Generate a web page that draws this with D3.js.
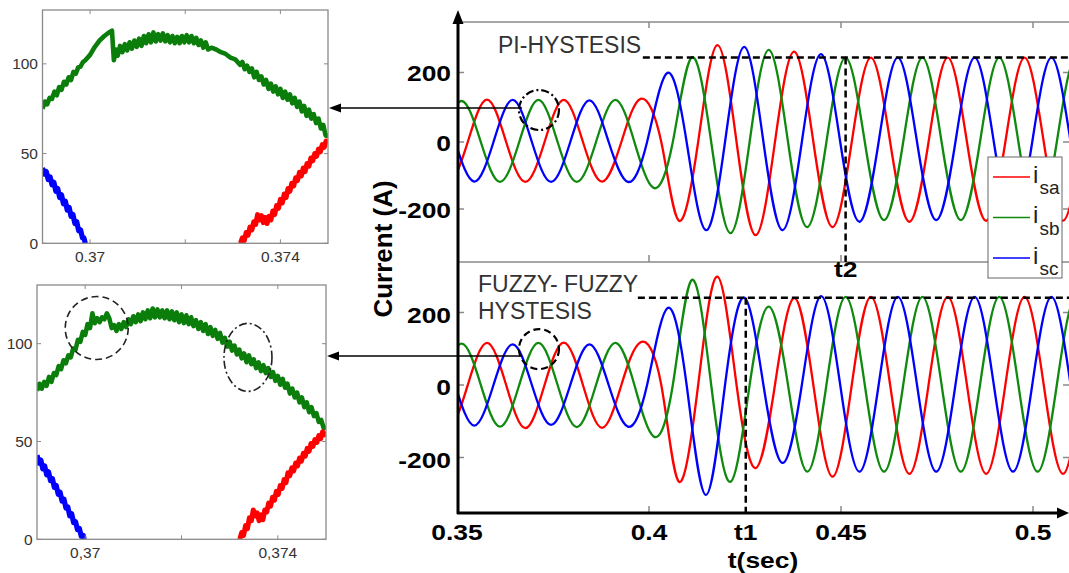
<!DOCTYPE html>
<html><head><meta charset="utf-8">
<script src="https://cdn.jsdelivr.net/npm/d3@7"></script>
<style>
html,body{margin:0;padding:0;background:#fff;}
svg{display:block;}
text{font-family:"Liberation Sans",Arial,sans-serif;}
</style></head><body>
<svg id="chart" width="1069" height="573"></svg>
<script>
// ---------------- DATA ----------------
// main axis ticks
const mainXTicks = [0.35, 0.4, 0.45, 0.5];
const mainXTickLabels = ["0.35", "0.4", "0.45", "0.5"];
const mainYTicks = [-200, 0, 200];
const mainYTickLabels = ["-200", "0", "200"];
const seriesNames = ["sa", "sb", "sc"];
const seriesColors = ["#ff0000", "#0f8a0f", "#0000ff"];

// PI-HYSTESIS currents [t (s), i (A)]
const piIsa = [[0.3428,0],[0.3478,-118],[0.3528,0],[0.3578,122],[0.3628,0],[0.3678,-119],[0.3728,0],[0.3778,121],[0.3828,0],[0.3878,-118],[0.3928,0],[0.3978,124],[0.4032,0],[0.4078,-235],[0.4128,0],[0.4178,279],[0.4228,0],[0.4278,-278],[0.4328,0],[0.4378,260],[0.4428,0],[0.4478,-254],[0.4528,0],[0.4578,243],[0.4628,0],[0.4678,-238],[0.4728,0],[0.4778,243],[0.4828,0],[0.4878,-235],[0.4928,0],[0.4978,243],[0.5028,0],[0.5078,-235],[0.5128,0]];
const piIsb = [[0.3462,0],[0.3512,118],[0.3562,0],[0.3612,-119],[0.3662,0],[0.3712,121],[0.3762,0],[0.3812,-119],[0.3862,0],[0.3912,121],[0.3962,0],[0.4012,-137],[0.4062,0],[0.4112,244],[0.4162,0],[0.4212,-272],[0.4262,0],[0.4312,265],[0.4362,0],[0.4412,-254],[0.4462,0],[0.4512,243],[0.4562,0],[0.4612,-233],[0.4662,0],[0.4712,243],[0.4762,0],[0.4812,-233],[0.4862,0],[0.4912,243],[0.4962,0],[0.5012,-235],[0.5062,0],[0.5112,243],[0.5162,0]];
const piIsc = [[0.3495,0],[0.3545,-118],[0.3595,0],[0.3645,121],[0.3695,0],[0.3745,-119],[0.3795,0],[0.3845,120],[0.3895,0],[0.3945,-119],[0.3995,0],[0.4048,199],[0.4098,0],[0.4148,-263],[0.4198,0],[0.4248,274],[0.4298,0],[0.4348,-263],[0.4398,0],[0.4448,253],[0.4498,0],[0.4548,-238],[0.4598,0],[0.4648,243],[0.4698,0],[0.4748,-233],[0.4798,0],[0.4848,243],[0.4898,0],[0.4948,-235],[0.4998,0],[0.5048,243],[0.5098,0],[0.5148,-235],[0.5198,0]];

// FUZZY-FUZZY HYSTESIS currents [t (s), i (A)]
const fzIsa = [[0.3428,0],[0.3478,-116],[0.3528,0],[0.3578,116],[0.3628,0],[0.3678,-119],[0.3728,0],[0.3778,117],[0.3828,0],[0.3878,-118],[0.3928,0],[0.3978,118],[0.4032,0],[0.4078,-267],[0.4128,0],[0.4178,299],[0.4228,0],[0.4278,-229],[0.4328,0],[0.4378,240],[0.4428,0],[0.4478,-253],[0.4528,0],[0.4578,243],[0.4628,0],[0.4678,-245],[0.4728,0],[0.4778,243],[0.4828,0],[0.4878,-245],[0.4928,0],[0.4978,243],[0.5028,0],[0.5078,-245],[0.5128,0]];
const fzIsb = [[0.3462,0],[0.3512,114],[0.3562,0],[0.3612,-115],[0.3662,0],[0.3712,116],[0.3762,0],[0.3812,-116],[0.3862,0],[0.3912,116],[0.3962,0],[0.4012,-142],[0.4062,0],[0.4112,290],[0.4162,0],[0.4212,-267],[0.4262,0],[0.4312,216],[0.4362,0],[0.4412,-239],[0.4462,0],[0.4512,243],[0.4562,0],[0.4612,-239],[0.4662,0],[0.4712,243],[0.4762,0],[0.4812,-239],[0.4862,0],[0.4912,243],[0.4962,0],[0.5012,-239],[0.5062,0],[0.5112,243],[0.5162,0]];
const fzIsc = [[0.3495,0],[0.3545,-112],[0.3595,0],[0.3645,112],[0.3695,0],[0.3745,-110],[0.3795,0],[0.3845,112],[0.3895,0],[0.3945,-115],[0.3995,0],[0.4048,212],[0.4098,0],[0.4148,-303],[0.4198,0],[0.4248,241],[0.4298,0],[0.4348,-215],[0.4398,0],[0.4448,245],[0.4498,0],[0.4548,-239],[0.4598,0],[0.4648,243],[0.4698,0],[0.4748,-239],[0.4798,0],[0.4848,243],[0.4898,0],[0.4948,-239],[0.4998,0],[0.5048,243],[0.5098,0],[0.5148,-239],[0.5198,0]];

// reference levels / instants
const piRefLevel = 243, fzRefLevel = 241;
const piRefStart = 0.3984, fzRefStart = 0.3971;
const t2 = 0.4512, t1 = 0.4252;

// zoom panels
const zoomXTicks = [0.37, 0.372, 0.374];
const zoomXLabelsPI = ["0.37", "", "0.374"];
const zoomXLabelsFZ = ["0,37", "", "0,374"];
const zoomYTicks = [0, 50, 100];
const zoomYLabels = ["0", "50", "100"];

const zPiGreen = [[0.36900,75],[0.36905,79],[0.36910,77.5],[0.36915,81],[0.36920,80.5],[0.36925,84.5],[0.36930,82.5],[0.36935,87],[0.36940,85.5],[0.36945,90],[0.36950,88.5],[0.36955,92.5],[0.36960,91],[0.36965,95.5],[0.36970,94.5],[0.36975,98],[0.36980,98.5],[0.36985,101],[0.36990,102],[0.37000,105],[0.37010,109.5],[0.37020,113],[0.37030,115.5],[0.37040,117.5],[0.37046,118.5],[0.37050,102],[0.37054,108],[0.37058,104.5],[0.37063,110],[0.37068,106.5],[0.37073,111],[0.37078,107.5],[0.37083,112],[0.37088,108.5],[0.37093,113],[0.37098,109.5],[0.37103,114],[0.37108,110],[0.37113,115.5],[0.37118,111.5],[0.37123,116.5],[0.37128,112],[0.37133,117.5],[0.37138,112.5],[0.37143,116.5],[0.37148,113],[0.37153,117],[0.37158,112.5],[0.37163,116],[0.37168,112],[0.37173,115.5],[0.37178,111.5],[0.37183,115],[0.37188,111.5],[0.37193,115.5],[0.37198,112],[0.37203,116],[0.37208,112],[0.37213,115.5],[0.37218,111.5],[0.37223,114.5],[0.37228,110.5],[0.37233,113],[0.37238,109],[0.37243,112],[0.37248,108],[0.37255,109],[0.37265,108],[0.37275,106.5],[0.37285,105.5],[0.37295,103.5],[0.37305,102.5],[0.37310,101],[0.37315,99.5],[0.37320,101],[0.37325,97],[0.37330,99],[0.37335,95.5],[0.37340,97.5],[0.37345,92.5],[0.37350,95.5],[0.37355,91],[0.37360,93],[0.37365,88.5],[0.37370,91],[0.37375,86],[0.37380,89],[0.37385,84.5],[0.37390,87.5],[0.37395,83],[0.37400,86],[0.37405,81],[0.37410,84.5],[0.37415,80],[0.37420,83],[0.37425,78],[0.37430,81],[0.37435,76],[0.37440,79],[0.37445,73.5],[0.37450,76.5],[0.37455,71],[0.37460,74.5],[0.37465,69.5],[0.37470,72],[0.37475,67],[0.37480,69.5],[0.37485,64],[0.37490,66],[0.37495,60],[0.37500,60]];
const zPiBlue = [[0.36900,42],[0.36904,38.5],[0.36908,40],[0.36912,35.5],[0.36916,37],[0.36920,32.5],[0.36924,34],[0.36928,29],[0.36932,30.5],[0.36936,25.5],[0.36940,27],[0.36944,22],[0.36948,23.5],[0.36952,18.5],[0.36956,20],[0.36960,15],[0.36964,16],[0.36968,11],[0.36972,12],[0.36976,7],[0.36980,7.5],[0.36984,3],[0.36987,3],[0.36990,0]];
const zPiRed = [[0.37316,0],[0.37320,3],[0.37324,1.5],[0.37328,6],[0.37332,4.5],[0.37336,9],[0.37340,7.5],[0.37344,12],[0.37348,10.5],[0.37352,16],[0.37356,13],[0.37360,15.5],[0.37364,11.5],[0.37368,14.5],[0.37372,11],[0.37376,15],[0.37380,13],[0.37384,18],[0.37388,16],[0.37392,21],[0.37396,19.5],[0.37400,24.5],[0.37404,22.5],[0.37408,27.5],[0.37412,25.5],[0.37416,30.5],[0.37420,29],[0.37424,33.5],[0.37428,32],[0.37432,36.5],[0.37436,35],[0.37440,39.5],[0.37444,37.5],[0.37448,42],[0.37452,40],[0.37456,44.5],[0.37460,43],[0.37464,47.5],[0.37468,46],[0.37472,50],[0.37476,48.5],[0.37480,52.5],[0.37484,51],[0.37488,55],[0.37492,53.5],[0.37496,57],[0.37500,56]];

const zFzGreen = [[0.36900,76],[0.36905,79.5],[0.36910,77],[0.36915,80.5],[0.36920,78.5],[0.36925,83],[0.36930,80.5],[0.36935,85],[0.36940,84],[0.36945,88.5],[0.36950,87],[0.36955,91.5],[0.36960,90],[0.36965,94],[0.36970,93],[0.36975,97.5],[0.36980,97],[0.36985,102],[0.36990,101],[0.36995,106],[0.37000,104.5],[0.37005,110],[0.37010,108],[0.37015,115.5],[0.37020,110.5],[0.37025,113],[0.37030,111],[0.37035,113.5],[0.37040,112.5],[0.37045,115.5],[0.37050,113],[0.37055,108],[0.37060,109.5],[0.37065,106.5],[0.37070,110],[0.37075,107.5],[0.37080,111],[0.37085,108.5],[0.37090,112.5],[0.37095,110],[0.37100,114],[0.37105,111],[0.37110,115],[0.37115,111.5],[0.37120,116],[0.37125,112.5],[0.37130,117],[0.37135,113],[0.37140,118],[0.37145,113.5],[0.37150,117.5],[0.37155,113.5],[0.37160,117],[0.37165,113],[0.37170,117],[0.37175,112.5],[0.37180,116.5],[0.37185,112],[0.37190,116],[0.37195,111],[0.37200,115],[0.37205,110.5],[0.37210,114.5],[0.37215,110],[0.37220,113.5],[0.37225,109],[0.37230,112],[0.37235,107.5],[0.37240,111],[0.37245,106.5],[0.37250,110],[0.37255,105],[0.37260,108.5],[0.37265,104],[0.37270,107],[0.37275,102.5],[0.37280,105.5],[0.37285,100.5],[0.37290,103],[0.37295,98.5],[0.37300,101],[0.37305,96.5],[0.37310,99],[0.37315,94.5],[0.37320,97],[0.37325,92.5],[0.37330,95],[0.37335,90.5],[0.37340,94],[0.37345,89.5],[0.37350,92],[0.37355,87.5],[0.37360,90.5],[0.37365,86],[0.37370,89],[0.37375,85],[0.37380,87.5],[0.37385,83],[0.37390,85.5],[0.37395,81],[0.37400,83.5],[0.37405,79],[0.37410,82],[0.37415,77.5],[0.37420,79.5],[0.37425,74.5],[0.37430,77],[0.37435,72.5],[0.37440,75],[0.37445,70],[0.37450,72.5],[0.37455,67.5],[0.37460,70],[0.37465,65],[0.37470,67.5],[0.37475,63],[0.37480,64.5],[0.37485,60],[0.37490,61],[0.37495,57],[0.37500,57]];
const zFzBlue = [[0.36900,43],[0.36904,39],[0.36908,40.5],[0.36912,36],[0.36916,37.5],[0.36920,33],[0.36924,34.5],[0.36928,30],[0.36932,31],[0.36936,26.5],[0.36940,27.5],[0.36944,23],[0.36948,24],[0.36952,19.5],[0.36956,20.5],[0.36960,16],[0.36964,16.5],[0.36968,12],[0.36972,13],[0.36976,8.5],[0.36980,9],[0.36984,5],[0.36988,5.5],[0.36992,1.5],[0.36996,2],[0.36998,0]];
const zFzRed = [[0.37321,0],[0.37325,3.5],[0.37329,2],[0.37333,7],[0.37337,5.5],[0.37341,11],[0.37345,9.5],[0.37349,15],[0.37353,12],[0.37357,13.5],[0.37361,9.5],[0.37365,12.5],[0.37369,10],[0.37373,15],[0.37377,14],[0.37381,18.5],[0.37385,17],[0.37389,21.5],[0.37393,20],[0.37397,24.5],[0.37401,23],[0.37405,27.5],[0.37409,26],[0.37413,30.5],[0.37417,29],[0.37421,34],[0.37425,32.5],[0.37429,36.5],[0.37433,35],[0.37437,39],[0.37441,37.5],[0.37445,41.5],[0.37449,40],[0.37453,44],[0.37457,42.5],[0.37461,46.5],[0.37465,45],[0.37469,49],[0.37473,47.5],[0.37477,51],[0.37481,49.5],[0.37485,53],[0.37489,51.5],[0.37493,55],[0.37497,53.5],[0.37500,55]];

// ---------------- DRAW ----------------
const svg = d3.select("#chart");
const W = 1069;
const GRAY = "#8a8a8a";

const x = d3.scaleLinear().domain([0.35, 0.5]).range([457, 1033]);
const yTop = d3.scaleLinear().domain([-200, 0, 200]).range([209, 142, 72.5]);
const yBot = d3.scaleLinear().domain([-200, 0, 200]).range([457.5, 385, 312.5]);

const defs = svg.append("defs");
defs.append("clipPath").attr("id", "clipTop").append("rect").attr("x", 459).attr("y", 22).attr("width", W - 459).attr("height", 240);
defs.append("clipPath").attr("id", "clipBot").append("rect").attr("x", 459).attr("y", 262).attr("width", W - 459).attr("height", 251);

function sText(parent, px, py, str, o) {
  o = o || {};
  return parent.append("text")
    .attr("transform", `translate(${px},${py}) scale(${o.sx || 1.2},1)`)
    .attr("text-anchor", o.anchor || "middle")
    .attr("font-size", o.size || 22)
    .attr("font-weight", o.weight || "bold")
    .attr("fill", o.fill || "#000")
    .text(str);
}

// panel frame lines (gray)
[22, 262].forEach(yy => {
  svg.append("line").attr("x1", 458).attr("x2", W).attr("y1", yy).attr("y2", yy)
    .attr("stroke", GRAY).attr("stroke-width", 1.5);
});
// gray ticks
mainXTicks.slice(1).forEach(t => {
  svg.append("line").attr("x1", x(t)).attr("x2", x(t)).attr("y1", 22).attr("y2", 28).attr("stroke", GRAY).attr("stroke-width", 1.5);
  svg.append("line").attr("x1", x(t)).attr("x2", x(t)).attr("y1", 262).attr("y2", 255).attr("stroke", GRAY).attr("stroke-width", 1.5);
  svg.append("line").attr("x1", x(t)).attr("x2", x(t)).attr("y1", 513).attr("y2", 506).attr("stroke", GRAY).attr("stroke-width", 1.5);
});
[yTop, yBot].forEach(sc => {
  mainYTicks.forEach(v => {
    svg.append("line").attr("x1", W - 6).attr("x2", W).attr("y1", sc(v)).attr("y2", sc(v)).attr("stroke", GRAY).attr("stroke-width", 1.5);
    svg.append("line").attr("x1", 458).attr("x2", 464).attr("y1", sc(v)).attr("y2", sc(v)).attr("stroke", GRAY).attr("stroke-width", 1.5);
  });
});

// curves
function drawPanel(series, ysc, clip) {
  const g = svg.append("g").attr("clip-path", `url(#${clip})`);
  const line = d3.line().x(d => x(d[0])).y(d => ysc(d[1])).curve(d3.curveNatural);
  series.forEach((s, i) => {
    g.append("path").datum(s).attr("d", line).attr("fill", "none")
      .attr("stroke", seriesColors[i]).attr("stroke-width", 2.3).attr("stroke-linejoin", "round");
  });
}
drawPanel([piIsa, piIsb, piIsc], yTop, "clipTop");
drawPanel([fzIsa, fzIsb, fzIsc], yBot, "clipBot");

// reference dashed lines
const dashStyle = (sel) => sel.attr("stroke", "#000").attr("stroke-width", 2.5).attr("stroke-dasharray", "7,4").attr("fill", "none");
dashStyle(svg.append("line").attr("x1", x(piRefStart)).attr("x2", W).attr("y1", yTop(piRefLevel)).attr("y2", yTop(piRefLevel)));
dashStyle(svg.append("line").attr("x1", x(t2)).attr("x2", x(t2)).attr("y1", yTop(piRefLevel)).attr("y2", 262));
dashStyle(svg.append("line").attr("x1", x(fzRefStart)).attr("x2", W).attr("y1", yBot(fzRefLevel)).attr("y2", yBot(fzRefLevel)));
dashStyle(svg.append("line").attr("x1", x(t1)).attr("x2", x(t1)).attr("y1", yBot(fzRefLevel)).attr("y2", 513));

// highlight circles in main plot
svg.append("circle").attr("cx", x(0.37135)).attr("cy", yTop(92)).attr("r", 20)
  .attr("fill", "none").attr("stroke", "#000").attr("stroke-width", 2.2).attr("stroke-dasharray", "8,3,2,3");
svg.append("circle").attr("cx", x(0.37135)).attr("cy", yBot(99)).attr("r", 20)
  .attr("fill", "none").attr("stroke", "#000").attr("stroke-width", 2.2).attr("stroke-dasharray", "7,4");

// main black axes
svg.append("line").attr("x1", 458).attr("x2", 458).attr("y1", 514).attr("y2", 22).attr("stroke", "#000").attr("stroke-width", 3);
svg.append("path").attr("d", "M458,10 L452.5,24 L463.5,24 Z").attr("fill", "#000");
svg.append("line").attr("x1", 457).attr("x2", W - 8).attr("y1", 513).attr("y2", 513).attr("stroke", "#000").attr("stroke-width", 3);
svg.append("path").attr("d", `M${W},513 L${W - 12},507.5 L${W - 12},518.5 Z`).attr("fill", "#000");

// tick labels
mainYTicks.forEach((v, i) => {
  sText(svg, 451, yTop(v) + 8.5, mainYTickLabels[i], { anchor: "end" });
  sText(svg, 451, yBot(v) + 10, mainYTickLabels[i], { anchor: "end" });
});
mainXTicks.forEach((t, i) => sText(svg, x(t), 540, mainXTickLabels[i]));
sText(svg, x(t1), 540, "t1");
sText(svg, x(t2), 277, "t2");
sText(svg, 763, 568, "t(sec)");
svg.append("text").attr("transform", "translate(392,249) rotate(-90)")
  .attr("text-anchor", "middle").attr("font-size", 26).attr("font-weight", "bold").text("Current (A)");

// panel titles
svg.append("text").attr("x", 498).attr("y", 53).attr("font-size", 23).attr("fill", "#333").text("PI-HYSTESIS");
svg.append("text").attr("x", 478).attr("y", 291.5).attr("font-size", 23).attr("fill", "#333").text("FUZZY- FUZZY");
svg.append("text").attr("x", 478).attr("y", 319).attr("font-size", 23).attr("fill", "#333").text("HYSTESIS");

// legend
const lg = svg.append("g");
lg.append("rect").attr("x", 988).attr("y", 157).attr("width", 74).attr("height", 121)
  .attr("fill", "#fff").attr("stroke", "#666").attr("stroke-width", 1);
seriesNames.forEach((nm, i) => {
  const ly = 177 + i * 40.5;
  lg.append("line").attr("x1", 993).attr("x2", 1030).attr("y1", ly).attr("y2", ly)
    .attr("stroke", seriesColors[i]).attr("stroke-width", 1.6);
  lg.append("text").attr("x", 1033).attr("y", ly + 5.5).attr("font-size", 24).attr("fill", "#222").text("i");
  lg.append("text").attr("x", 1039.5).attr("y", ly + 17).attr("font-size", 19).attr("fill", "#222").text(nm);
});

// ---------------- ZOOM PANELS ----------------
function zoomPanel(box, series, xLabels, clipId) {
  const zx = d3.scaleLinear().domain([0.369, 0.375]).range([box.x0, box.x1]);
  const zy = d3.scaleLinear().domain([0, 130]).range([box.y0, box.y1]);
  defs.append("clipPath").attr("id", clipId).append("rect")
    .attr("x", box.x0).attr("y", box.y1).attr("width", box.x1 - box.x0).attr("height", box.y0 - box.y1);
  const g = svg.append("g");
  const cg = g.append("g").attr("clip-path", `url(#${clipId})`);
  const line = d3.line().x(d => zx(d[0])).y(d => zy(d[1]));
  const order = [[series[0], "#0a7d0a", 4.6], [series[1], seriesColors[2], 5.2], [series[2], seriesColors[0], 5.0]];
  order.forEach(([s, c, w]) => {
    cg.append("path").datum(s).attr("d", line).attr("fill", "none").attr("stroke", c)
      .attr("stroke-width", w).attr("stroke-linejoin", "round");
  });
  g.append("rect").attr("x", box.x0).attr("y", box.y1).attr("width", box.x1 - box.x0).attr("height", box.y0 - box.y1)
    .attr("fill", "none").attr("stroke", GRAY).attr("stroke-width", 1.3);
  zoomXTicks.forEach((t, i) => {
    g.append("line").attr("x1", zx(t)).attr("x2", zx(t)).attr("y1", box.y0).attr("y2", box.y0 - 4).attr("stroke", GRAY);
    g.append("line").attr("x1", zx(t)).attr("x2", zx(t)).attr("y1", box.y1).attr("y2", box.y1 + 4).attr("stroke", GRAY);
    if (xLabels[i]) g.append("text").attr("x", zx(t)).attr("y", box.y0 + 18.5).attr("text-anchor", "middle")
      .attr("font-size", 15.5).attr("fill", "#333").text(xLabels[i]);
  });
  zoomYTicks.forEach((v, i) => {
    g.append("line").attr("x1", box.x0).attr("x2", box.x0 + 4).attr("y1", zy(v)).attr("y2", zy(v)).attr("stroke", GRAY);
    g.append("line").attr("x1", box.x1).attr("x2", box.x1 - 4).attr("y1", zy(v)).attr("y2", zy(v)).attr("stroke", GRAY);
    g.append("text").attr("x", box.x0 - 4.5).attr("y", zy(v) + 5.5).attr("text-anchor", "end")
      .attr("font-size", 15.5).attr("fill", "#333").text(zoomYLabels[i]);
  });
  return { zx, zy, g };
}
const zp1 = zoomPanel({ x0: 42.5, x1: 328, y0: 243.3, y1: 10 }, [zPiGreen, zPiBlue, zPiRed], zoomXLabelsPI, "clipZ1");
const zp2 = zoomPanel({ x0: 37, x1: 326, y0: 539.3, y1: 285 }, [zFzGreen, zFzBlue, zFzRed], zoomXLabelsFZ, "clipZ2");

// highlight marks in fuzzy zoom
zp2.g.append("circle").attr("cx", zp2.zx(0.37024)).attr("cy", zp2.zy(108)).attr("r", 31.5)
  .attr("fill", "none").attr("stroke", "#222").attr("stroke-width", 1.6).attr("stroke-dasharray", "7,4");
zp2.g.append("ellipse").attr("cx", zp2.zx(0.37338)).attr("cy", zp2.zy(93)).attr("rx", 24).attr("ry", 34)
  .attr("fill", "none").attr("stroke", "#222").attr("stroke-width", 1.6).attr("stroke-dasharray", "8,3,2,3");

// pointer arrows from main plot to zoom panels
function arrow(x1, yy, x2) {
  svg.append("line").attr("x1", x1).attr("x2", x2 + 10).attr("y1", yy).attr("y2", yy).attr("stroke", "#000").attr("stroke-width", 1.5);
  svg.append("path").attr("d", `M${x2},${yy} L${x2 + 12},${yy - 4.5} L${x2 + 12},${yy + 4.5} Z`).attr("fill", "#000");
}
arrow(x(0.36693), yTop(98), 329);
arrow(x(0.36693), yBot(80), 327);
</script>
</body></html>
